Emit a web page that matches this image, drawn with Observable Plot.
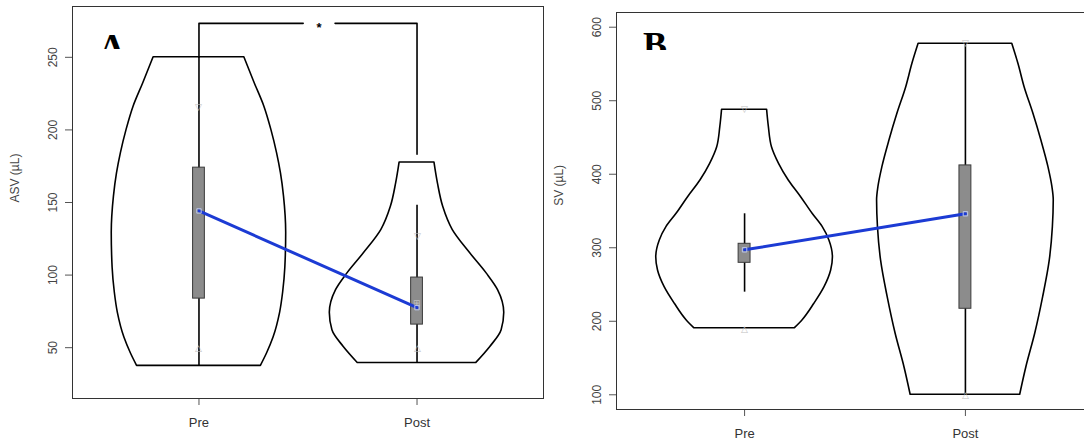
<!DOCTYPE html>
<html>
<head>
<meta charset="utf-8">
<script src="https://cdn.jsdelivr.net/npm/d3@7"></script>
<script src="https://cdn.jsdelivr.net/npm/@observablehq/plot@0.6"></script>
<style>
  body { margin: 0; background: #fff; }
  #wrap { position: relative; width: 1084px; height: 443px; overflow: hidden; background: #fff; }
  .panel { position: absolute; top: 0; }
  .tag { position: absolute; overflow: hidden; font: bold 36px "Liberation Serif", "DejaVu Serif", serif; line-height: 36px; color: #000; }
</style>
</head>
<body>
<div id="wrap"></div>
<script>
// Groups on the x axis (positions 1 and 2)
const groups = ["Pre", "Post"];

// ---- Panel A: ASV (µL) ----
const asvTicks = [50, 100, 150, 200, 250];
// violin outlines: levels (µL) and relative density (1 = widest point)
const asvPreLevels  = [250, 232, 216, 200, 184, 170, 154, 129, 105, 88, 74, 57, 46, 37.5];
const asvPreDensity = [0.52, 0.64, 0.75, 0.83, 0.895, 0.94, 0.975, 1.00, 0.99, 0.965, 0.93, 0.855, 0.78, 0.71];
const asvPostLevels  = [177.5, 163, 147, 131, 115, 101, 89.5, 74, 62, 50.5, 39.5];
const asvPostDensity = [0.20, 0.24, 0.30, 0.41, 0.61, 0.80, 0.93, 1.00, 0.97, 0.84, 0.68];
// box plot summaries (Pre, Post)
const asvLow    = [37.5, 39.5];
const asvQ1     = [83.8, 65.9];
const asvMedian = [144.2, 77.6];
const asvQ3     = [174, 98.3];
const asvHigh   = [250, 148.1];
// faint marker glyphs drawn on the whiskers
const asvMarkGroup = [1, 1, 2, 2, 2];
const asvMarkValue = [215.5, 50, 126.6, 49.5, 81];
const asvMarkGlyph = ["▽", "△", "▽", "△", "⊞"];
// significance bracket between the groups
const bracketLevel = 273.4;
const bracketEnds  = [250, 183.2];
const bracketStar  = "*";

// ---- Panel B: SV (µL) ----
const svTicks = [100, 200, 300, 400, 500, 600];
const svPreLevels  = [487.7, 464, 436.8, 414.2, 391.5, 368.8, 346.2, 328, 309.9, 287.2, 269.1, 246.4, 223.8, 201.1, 190.6];
const svPreDensity = [0.255, 0.275, 0.31, 0.39, 0.50, 0.64, 0.77, 0.885, 0.96, 1.00, 0.98, 0.905, 0.79, 0.655, 0.57];
const svPostLevels  = [577.4, 550.2, 518.4, 482.2, 445.9, 409.6, 382.4, 364.3, 328, 282.7, 232.8, 183, 137.5, 100];
const svPostDensity = [0.53, 0.60, 0.67, 0.77, 0.86, 0.94, 0.985, 1.00, 0.99, 0.955, 0.88, 0.79, 0.69, 0.62];
const svLow    = [239.6, 100];
const svQ1     = [279.5, 217];
const svMedian = [297.2, 346.2];
const svQ3     = [305.4, 412];
const svHigh   = [346.2, 577.4];
const svMarkGroup = [1, 1, 2, 2];
const svMarkValue = [488, 190, 578, 100];
const svMarkGlyph = ["▽", "△", "▽", "△"];

// drawing constants
const VIOLIN_HALF = 0.40;   // half width of a violin at its widest, in x units
const BOX_HALF = 0.027;     // half width of the box
const BLUE = "#1c3bd4";
const FONT = "'Liberation Sans', Arial, Helvetica, sans-serif";

function violin(pos, levels, density) {
  return levels.map((y, i) => ({
    y,
    x1: pos - density[i] * VIOLIN_HALF,
    x2: pos + density[i] * VIOLIN_HALF
  }));
}

function summary(low, q1, median, q3, high) {
  return groups.map((g, i) => ({
    group: g, pos: i + 1,
    low: low[i], q1: q1[i], median: median[i], q3: q3[i], high: high[i]
  }));
}

function glyphs(groupIdx, values, text) {
  return values.map((v, i) => ({ pos: groupIdx[i], value: v, glyph: text[i] }));
}

function panel({ width, margin, yDomain, yTicks, yLabel, yLabelValue, violins, stats, marks, extra = [] }) {
  return Plot.plot({
    width, height: 443,
    marginLeft: margin[0], marginTop: margin[1], marginRight: margin[2], marginBottom: margin[3],
    style: { fontFamily: FONT, fontSize: "12px", color: "#444", background: "transparent", overflow: "visible" },
    x: { type: "linear", domain: [0.42, 2.58] },
    y: { type: "linear", domain: yDomain },
    marks: [
      Plot.axisX([1, 2], { label: null, tickSize: 7, tickPadding: 12, tickFormat: (d) => groups[d - 1], fontSize: 13, stroke: "#555", fill: "#333" }),
      Plot.axisY(yTicks, { label: null, tickSize: 7, tickPadding: 9, tickRotate: -90, stroke: "#555", fill: "#444" }),
      Plot.text([yLabel], { frameAnchor: "left", y: () => yLabelValue, dx: -57, rotate: -90, text: (d) => d, fontSize: 12, fill: "#444" }),
      ...violins.map((v) => Plot.areaX(v, { y: "y", x1: "x1", x2: "x2", fill: "white", stroke: "black", strokeWidth: 1.6, curve: "monotone-y" })),
      Plot.ruleX(stats, { x: "pos", y1: "low", y2: "high", stroke: "black", strokeWidth: 1.6 }),
      Plot.rect(stats, { x1: (d) => d.pos - BOX_HALF, x2: (d) => d.pos + BOX_HALF, y1: "q1", y2: "q3", fill: "#8c8c8c", stroke: "#3a3a3a", strokeWidth: 1 }),
      Plot.text(marks, { x: "pos", y: "value", text: "glyph", fill: "#c2c2c2", fontSize: 9 }),
      Plot.line(stats, { x: "pos", y: "median", stroke: BLUE, strokeWidth: 3 }),
      Plot.dot(stats, { x: "pos", y: "median", symbol: "square", r: 2.5, stroke: "#b9c4ea", fill: "none", strokeWidth: 1 }),
      ...extra,
      Plot.frame({ stroke: "#333", strokeWidth: 1 })
    ]
  });
}

const wrap = document.getElementById("wrap");

// Panel A
const asvStats = summary(asvLow, asvQ1, asvMedian, asvQ3, asvHigh);
const starGap = 0.073;
const starX = 1.551;
const bracketLeft  = [{ x: 1, y: bracketEnds[0] }, { x: 1, y: bracketLevel }, { x: starX - starGap, y: bracketLevel }];
const bracketRight = [{ x: starX + starGap, y: bracketLevel }, { x: 2, y: bracketLevel }, { x: 2, y: bracketEnds[1] }];
const plotA = panel({
  width: 560,
  margin: [72, 6, 17, 45],
  yDomain: [15, 285],
  yTicks: asvTicks,
  yLabel: "ASV (µL)",
  yLabelValue: 150,
  violins: [violin(1, asvPreLevels, asvPreDensity), violin(2, asvPostLevels, asvPostDensity)],
  stats: asvStats,
  marks: glyphs(asvMarkGroup, asvMarkValue, asvMarkGlyph),
  extra: [
    Plot.line(bracketLeft, { x: "x", y: "y", stroke: "black", strokeWidth: 1.6 }),
    Plot.line(bracketRight, { x: "x", y: "y", stroke: "black", strokeWidth: 1.6 }),
    Plot.text([bracketStar], { x: starX, y: bracketLevel, dy: 4, text: (d) => d, fontSize: 13, fontWeight: "bold", fill: "#000" })
  ]
});
plotA.classList.add("panel");
plotA.style.left = "0px";
wrap.appendChild(plotA);

// Panel B
const svStats = summary(svLow, svQ1, svMedian, svQ3, svHigh);
const plotB = panel({
  width: 560,
  margin: [71, 12, 12, 34],
  yDomain: [80, 620],
  yTicks: svTicks,
  yLabel: "SV (µL)",
  yLabelValue: 357,
  violins: [violin(1, svPreLevels, svPreDensity), violin(2, svPostLevels, svPostDensity)],
  stats: svStats,
  marks: glyphs(svMarkGroup, svMarkValue, svMarkGlyph)
});
plotB.classList.add("panel");
plotB.style.left = "545px";
wrap.appendChild(plotB);

// Panel letters (partly hidden under their top edge, as printed)
function tag(letter, left, top, height) {
  const d = document.createElement("div");
  d.className = "tag";
  d.textContent = letter;
  d.style.left = left + "px";
  d.style.top = top + "px";
  d.style.height = height + "px";
  wrap.appendChild(d);
}
tag("A", 99, 29, 20);
tag("B", 643, 27, 23);
</script>
</body>
</html>
